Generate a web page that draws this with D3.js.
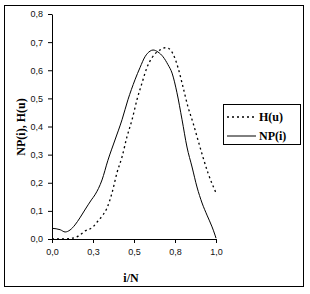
<!DOCTYPE html>
<html>
<head>
<meta charset="utf-8">
<script src="https://cdn.jsdelivr.net/npm/d3@7"></script>
<style>
  body { margin: 0; background: #fff; }
  .tick text { font-family: Arial, "Liberation Sans", sans-serif; font-size: 9px; fill: #111; }
  .title { font-family: "Times New Roman", "Liberation Serif", serif; font-weight: bold; font-size: 12px; fill: #000; }
  .legend { font-family: "Times New Roman", "Liberation Serif", serif; font-weight: bold; font-size: 12px; fill: #000; }
</style>
</head>
<body>
<script>
var w = 310, h = 294;

// tick labels as they appear
var xTicks = [0, 0.25, 0.5, 0.75, 1.0];
var xTickLabels = ["0,0", "0,3", "0,5", "0,8", "1,0"];
var yTicks = [0, 0.1, 0.2, 0.3, 0.4, 0.5, 0.6, 0.7, 0.8];
var yTickLabels = ["0,0", "0,1", "0,2", "0,3", "0,4", "0,5", "0,6", "0,7", "0,8"];

// NP(i) - solid
var npX = [0.0, 0.05, 0.08, 0.11, 0.14, 0.17, 0.20, 0.24, 0.262, 0.305, 0.341, 0.384, 0.427, 0.463, 0.506, 0.537, 0.567, 0.598, 0.616, 0.646, 0.677, 0.707, 0.732, 0.762, 0.793, 0.823, 0.854, 0.884, 0.915, 0.945, 0.976, 0.994, 1.0];
var npY = [0.038, 0.033, 0.025, 0.032, 0.05, 0.075, 0.103, 0.139, 0.157, 0.21, 0.28, 0.352, 0.424, 0.495, 0.566, 0.61, 0.648, 0.668, 0.672, 0.665, 0.648, 0.62, 0.59, 0.52, 0.424, 0.327, 0.256, 0.185, 0.128, 0.085, 0.043, 0.014, 0.003];

// H(u) - dotted
var hX = [0.0, 0.06, 0.11, 0.16, 0.20, 0.25, 0.28, 0.31, 0.335, 0.366, 0.396, 0.427, 0.457, 0.488, 0.518, 0.549, 0.579, 0.61, 0.658, 0.689, 0.71, 0.738, 0.768, 0.799, 0.829, 0.86, 0.89, 0.92, 0.951, 1.0];
var hY = [0.0, 0.0, 0.002, 0.01, 0.028, 0.043, 0.064, 0.085, 0.11, 0.164, 0.235, 0.292, 0.363, 0.424, 0.495, 0.555, 0.61, 0.645, 0.672, 0.68, 0.678, 0.658, 0.61, 0.54, 0.47, 0.413, 0.352, 0.292, 0.235, 0.164];

var margin = {left: 52, right: 94, top: 14, bottom: 55};

var svg = d3.select("body").append("svg")
    .attr("width", w)
    .attr("height", h);

// outer frame
svg.append("rect")
    .attr("x", 4.5).attr("y", 5.5)
    .attr("width", 299).attr("height", 281)
    .attr("fill", "none").attr("stroke", "#000");

var x = d3.scaleLinear().domain([0, 1]).range([margin.left, w - margin.right]);
var y = d3.scaleLinear().domain([0, 0.8]).range([h - margin.bottom, margin.top]);

var line = d3.line()
    .x(function(d) { return x(d[0]); })
    .y(function(d) { return y(d[1]); })
    .curve(d3.curveMonotoneX);

// x axis
svg.append("g")
    .attr("transform", "translate(0," + y(0) + ")")
    .call(d3.axisBottom(x).tickValues(xTicks).tickSize(4).tickSizeOuter(0).tickPadding(6)
        .tickFormat(function(d, i) { return xTickLabels[i]; }))
    .call(function(g) { g.selectAll("line, path").attr("stroke", "#000"); });

// y axis
svg.append("g")
    .attr("transform", "translate(" + x(0) + ",0)")
    .call(d3.axisLeft(y).tickValues(yTicks).tickSize(4).tickSizeOuter(0).tickPadding(5)
        .tickFormat(function(d, i) { return yTickLabels[i]; }))
    .call(function(g) { g.selectAll("line, path").attr("stroke", "#000"); });

// lines
svg.append("path")
    .datum(npX.map(function(v, i) { return [v, npY[i]]; }))
    .attr("d", line)
    .attr("fill", "none").attr("stroke", "#000").attr("stroke-width", 1);

svg.append("path")
    .datum(hX.map(function(v, i) { return [v, hY[i]]; }))
    .attr("d", line)
    .attr("fill", "none").attr("stroke", "#000").attr("stroke-width", 1.3)
    .attr("stroke-dasharray", "2,3");

// axis titles
svg.append("text")
    .attr("class", "title")
    .attr("transform", "translate(25,127) rotate(-90)")
    .attr("text-anchor", "middle")
    .text("NP(i), H(u)");

svg.append("text")
    .attr("class", "title")
    .attr("x", 131).attr("y", 282)
    .attr("text-anchor", "middle")
    .text("i/N");

// legend
var legend = svg.append("g");

legend.append("rect")
    .attr("x", 223.5).attr("y", 104.5)
    .attr("width", 77).attr("height", 40)
    .attr("fill", "#fff").attr("stroke", "#000");

legend.append("line")
    .attr("x1", 227).attr("x2", 256).attr("y1", 117).attr("y2", 117)
    .attr("stroke", "#000").attr("stroke-width", 1.3).attr("stroke-dasharray", "2,3");

legend.append("line")
    .attr("x1", 227).attr("x2", 256).attr("y1", 136).attr("y2", 136)
    .attr("stroke", "#000");

legend.append("text")
    .attr("class", "legend")
    .attr("x", 259).attr("y", 121)
    .text("H(u)");

legend.append("text")
    .attr("class", "legend")
    .attr("x", 259).attr("y", 140)
    .text("NP(i)");
</script>
</body>
</html>
